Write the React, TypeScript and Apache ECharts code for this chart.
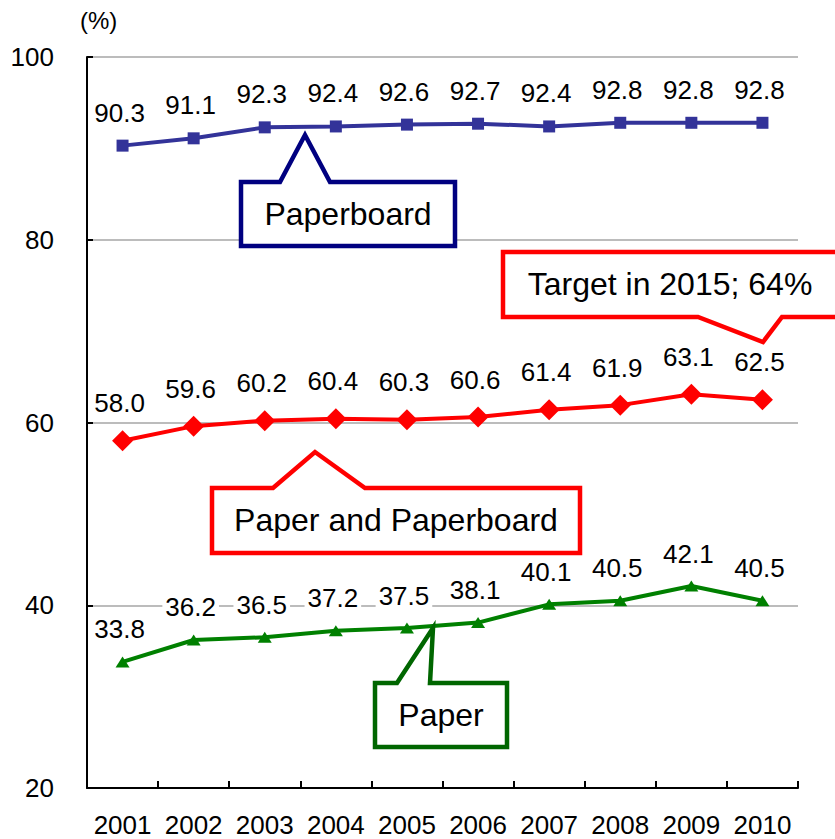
import React, { useEffect, useRef } from "react";
import * as echarts from "echarts";

const years = ["2001", "2002", "2003", "2004", "2005", "2006", "2007", "2008", "2009", "2010"];
const paperboard = [90.3, 91.1, 92.3, 92.4, 92.6, 92.7, 92.4, 92.8, 92.8, 92.8];
const paperAndPaperboard = [58.0, 59.6, 60.2, 60.4, 60.3, 60.6, 61.4, 61.9, 63.1, 62.5];
const paper = [33.8, 36.2, 36.5, 37.2, 37.5, 38.1, 40.1, 40.5, 42.1, 40.5];
const yTicks = { min: 20, max: 100, interval: 20 };

const FONT = "'Liberation Sans', Arial, sans-serif";

function callout(points: number[][], color: string, text: string, tx: number, ty: number) {
  return [
    {
      type: "polygon",
      z: 100,
      shape: { points },
      style: { fill: "#ffffff", stroke: color, lineWidth: 4.5, lineJoin: "miter" },
    },
    {
      type: "text",
      z: 101,
      x: tx,
      y: ty,
      style: {
        text,
        fill: "#000000",
        font: `32px ${FONT}`,
        align: "center",
        verticalAlign: "middle",
      },
    },
  ];
}

export default function App() {
  const ref = useRef<HTMLDivElement>(null);
  useEffect(() => {
    if (!ref.current) return;
    const chart = echarts.init(ref.current, null, { renderer: "svg" });
    const label = {
      show: true,
      position: "top",
      distance: 12,
      offset: [-3, 0],
      fontSize: 26,
      fontFamily: FONT,
      color: "#000000",
      backgroundColor: "#ffffff",
      padding: [2, 3],
      formatter: (p: any) => Number(p.value).toFixed(1),
    };
    chart.setOption({
      animation: false,
      textStyle: { fontFamily: FONT },
      grid: { left: 87, right: 37, top: 57, bottom: 51, containLabel: false },
      xAxis: {
        type: "category",
        data: years,
        axisLine: { lineStyle: { color: "#000000", width: 2 } },
        axisTick: { show: true, inside: true, length: 7, lineStyle: { color: "#000000", width: 2 } },
        axisLabel: { color: "#000000", fontSize: 26, margin: 24, interval: 0 },
      },
      yAxis: {
        type: "value",
        min: yTicks.min,
        max: yTicks.max,
        interval: yTicks.interval,
        axisLine: { show: true, lineStyle: { color: "#000000", width: 2 } },
        axisTick: { show: true, inside: true, length: 6, lineStyle: { color: "#000000", width: 2 } },
        axisLabel: { color: "#000000", fontSize: 26, margin: 33 },
        splitLine: { show: true, lineStyle: { color: "#a6a6a6", width: 1.5 } },
      },
      series: [
        {
          name: "Paperboard",
          type: "line",
          data: paperboard,
          symbol: "rect",
          symbolSize: 12,
          lineStyle: { color: "#333399", width: 4 },
          itemStyle: { color: "#333399" },
          label,
        },
        {
          name: "Paper and Paperboard",
          type: "line",
          data: paperAndPaperboard,
          symbol: "diamond",
          symbolSize: 21,
          lineStyle: { color: "#ff0000", width: 4 },
          itemStyle: { color: "#ff0000" },
          label,
        },
        {
          name: "Paper",
          type: "line",
          data: paper,
          symbol: "triangle",
          symbolSize: [14, 11],
          lineStyle: { color: "#008000", width: 4 },
          itemStyle: { color: "#008000" },
          label,
        },
      ],
      graphic: [
        {
          type: "text",
          left: 80,
          top: 8,
          style: { text: "(%)", fill: "#000000", font: `24px ${FONT}` },
        },
        ...callout(
          [[241, 182], [280, 182], [305, 135], [330, 182], [455, 182], [455, 246], [241, 246]],
          "#000080",
          "Paperboard",
          348,
          214
        ),
        ...callout(
          [[503, 252], [845, 252], [845, 317], [782, 317], [763, 342], [698, 317], [503, 317]],
          "#ff0000",
          "Target in 2015; 64%",
          670,
          284
        ),
        ...callout(
          [[212, 488], [273, 488], [315, 452], [365, 488], [580, 488], [580, 553], [212, 553]],
          "#ff0000",
          "Paper and Paperboard",
          396,
          520
        ),
        ...callout(
          [[375, 683], [397, 683], [433, 628], [430, 683], [507, 683], [507, 747], [375, 747]],
          "#006600",
          "Paper",
          441,
          715
        ),
      ],
    });
    return () => chart.dispose();
  }, []);
  return <div ref={ref} style={{ width: 835, height: 839, position: "absolute", left: 0, top: 0 }} />;
}
